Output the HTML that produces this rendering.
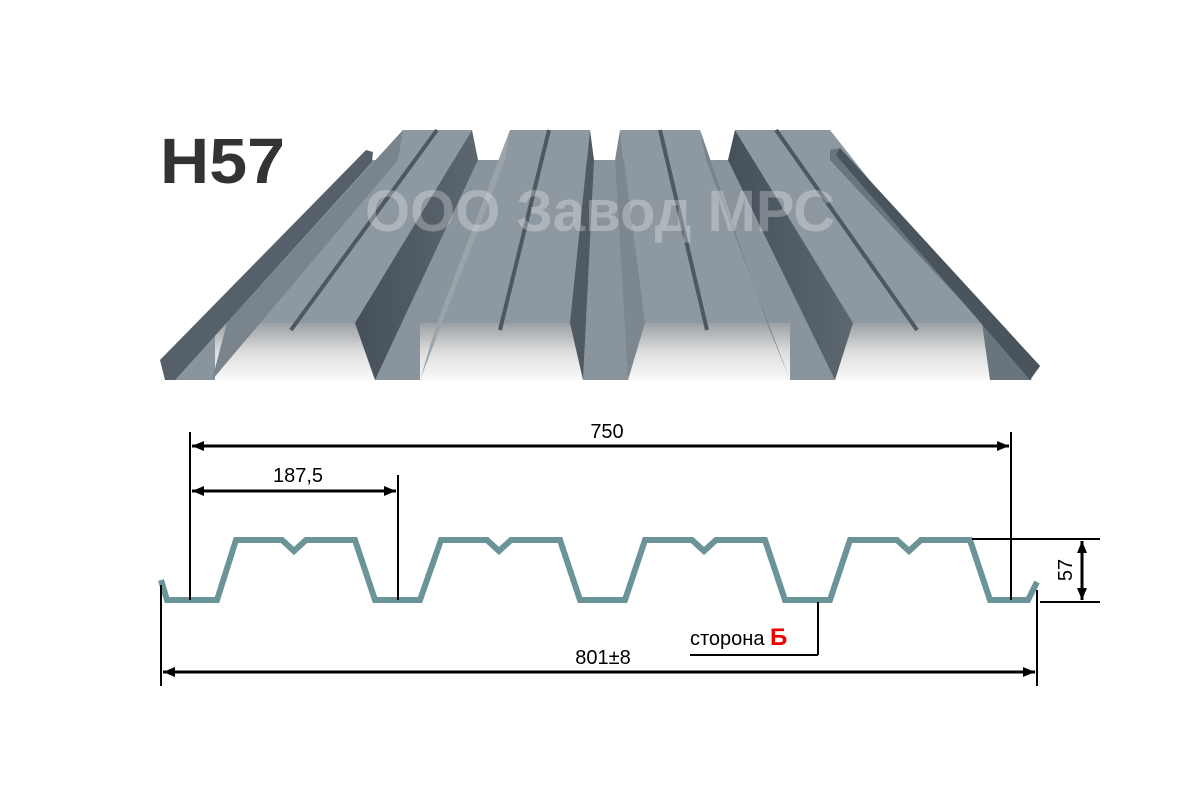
<!DOCTYPE html>
<html><head><meta charset="utf-8"><style>
html,body{margin:0;padding:0;background:#fff;}
svg{display:block}
text{font-family:"Liberation Sans",sans-serif}
</style></head><body>
<svg width="1200" height="800" viewBox="0 0 1200 800" xmlns="http://www.w3.org/2000/svg">
<defs>
<linearGradient id="sh" x1="0" y1="0" x2="0" y2="1"><stop offset="0" stop-color="#9aa0a4"/><stop offset="0.5" stop-color="#dcdcdc"/><stop offset="1" stop-color="#fafafa"/></linearGradient>
<linearGradient id="dw" x1="0" y1="0" x2="1" y2="0"><stop offset="0" stop-color="#46505a"/><stop offset="1" stop-color="#5d6770"/></linearGradient>
<marker id="a" markerWidth="12" markerHeight="10" refX="12" refY="5" orient="auto-start-reverse" markerUnits="userSpaceOnUse"><path d="M0,0 L12,5 L0,10 Z" fill="#000"/></marker>
</defs>
<text x="160" y="183" font-size="64" font-weight="bold" fill="#333" textLength="125" lengthAdjust="spacingAndGlyphs">H57</text>
<!-- base valleys -->
<polygon points="165,380 368,160 835,160 1032,380" fill="#8a949c"/>
<!-- front hollow areas under ridges -->
<rect x="215" y="323" width="160" height="57" fill="url(#sh)"/>
<rect x="420" y="323" width="163" height="57" fill="url(#sh)"/>
<rect x="628" y="323" width="162" height="57" fill="url(#sh)"/>
<rect x="835" y="323" width="157" height="57" fill="url(#sh)"/>
<!-- ridge A -->
<polygon points="403,130 472,130 355,323 227,323" fill="#8e98a0"/>
<polygon points="472,130 478,160 375,380 355,323" fill="url(#dw)"/>
<polygon points="403,130 227,323 212,380 398,160" fill="#7a848c"/>
<!-- ridge B -->
<polygon points="510,130 590,130 570,323 437,323" fill="#8e98a0"/>
<polygon points="590,130 594,160 583,380 570,323" fill="#505a63"/>
<polygon points="510,130 437,323 420,380 505,160" fill="#9ba4aa"/>
<!-- ridge C -->
<polygon points="620,130 700,130 767,323 645,323" fill="#8e98a0"/>
<polygon points="620,130 645,323 628,380 615,160" fill="#7d878f"/>
<polygon points="700,130 706,160 790,380 767,323" fill="#7a848c"/>
<!-- ridge D -->
<polygon points="735,130 830,130 982,323 853,323" fill="#8e98a0"/>
<polygon points="735,130 853,323 835,380 728,160" fill="url(#dw)"/>
<!-- lips -->
<polygon points="160,360 366,150 373,152 372,162 175,380 165,380" fill="#56606a"/>
<polygon points="982,323 990,380 1030,380 1040,366 840,148 830,150 830,160" fill="#6a747c"/>
<polygon points="1030,380 1040,366 840,148 836,155" fill="#4a545d"/>
<!-- grooves -->
<g stroke="#4e5860" stroke-width="4">
<line x1="291" y1="330" x2="437" y2="130"/>
<line x1="500" y1="330" x2="549" y2="130"/>
<line x1="707" y1="330" x2="660" y2="130"/>
<line x1="917" y1="330" x2="776" y2="130"/>
</g>
<text x="600" y="231" font-size="58" font-weight="bold" fill="#fff" fill-opacity="0.28" text-anchor="middle">ООО Завод МРС</text>
<!-- profile -->
<path d="M161,580 L167,600 L217,600 L236,540 L282,540 L294,551 L306,540 L355,540 L375,600 L420,600 L441,540 L487,540 L499,551 L511,540 L560,540 L580,600 L625,600 L645,540 L692,540 L704,551 L716,540 L765,540 L785,600 L830,600 L850,540 L897,540 L909,551 L921,540 L970,540 L990,600 L1028,600 L1037,582" fill="none" stroke="#6a9498" stroke-width="6"/>
<!-- dimensions -->
<g stroke="#000" stroke-width="2" fill="none">
<line x1="190" y1="432" x2="190" y2="600"/>
<line x1="1011" y1="432" x2="1011" y2="600"/>
<line x1="398" y1="475" x2="398" y2="600"/>
<line x1="161" y1="585" x2="161" y2="686"/>
<line x1="1037" y1="590" x2="1037" y2="686"/>
<line x1="972" y1="539" x2="1100" y2="539"/>
<line x1="1040" y1="602" x2="1100" y2="602"/>
<line x1="818" y1="602" x2="818" y2="655"/>
<line x1="690" y1="655" x2="818" y2="655"/>
<line x1="192" y1="446" x2="1009" y2="446" marker-start="url(#a)" marker-end="url(#a)" stroke-width="3"/>
<line x1="192" y1="491" x2="396" y2="491" marker-start="url(#a)" marker-end="url(#a)" stroke-width="3"/>
<line x1="163" y1="672" x2="1035" y2="672" marker-start="url(#a)" marker-end="url(#a)" stroke-width="3"/>
<line x1="1082" y1="541" x2="1082" y2="600" marker-start="url(#a)" marker-end="url(#a)" stroke-width="3"/>
</g>
<g font-size="20" fill="#000">
<text x="607" y="438" text-anchor="middle">750</text>
<text x="298" y="482" text-anchor="middle">187,5</text>
<text x="603" y="664" text-anchor="middle">801±8</text>
<text transform="translate(1072,570) rotate(-90)" text-anchor="middle">57</text>
<text x="690" y="645">сторона <tspan fill="#e00" font-weight="bold" font-size="24">Б</tspan></text>
</g>
</svg>
</body></html>
